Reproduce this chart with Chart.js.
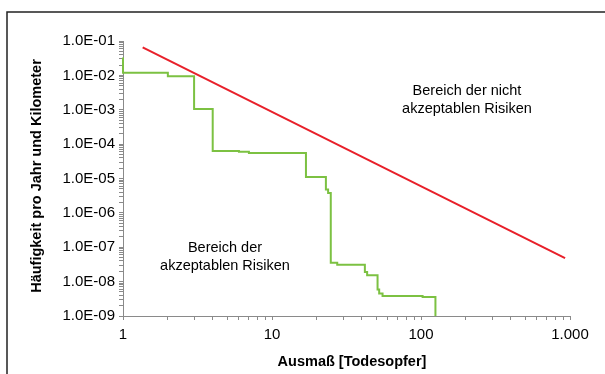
<!DOCTYPE html>
<html>
<head>
<meta charset="utf-8">
<script src="https://cdn.jsdelivr.net/npm/chart.js@4/dist/chart.umd.min.js"></script>
<style>
    html, body { margin: 0; padding: 0; background: #fff; }
    #wrap { width: 605px; height: 374px; position: relative; }
</style>
</head>
<body>
<div id="wrap"><canvas id="risk"></canvas></div>
<script>
// Grenzlinie (rot)
const limitX = [1.355, 927];
const limitY = [0.0656, 4.8e-8];

// Summenkurve (grün), Stufen: Ausmaß / Häufigkeit
const stepX = [1, 1, 2, 3, 4, 6, 7, 16.9, 23, 23.8, 24.8, 27.4, 42, 43.5, 51.1, 52.4, 55.2, 102.5, 125];
const stepY = [0.033, 0.012, 0.0094, 1.05e-3, 6.3e-5, 6.0e-5, 5.5e-5, 1.1e-5, 4.75e-6, 3.8e-6, 3.57e-8, 3.1e-8, 1.9e-8, 1.53e-8, 5.9e-9, 4.5e-9, 3.8e-9, 3.6e-9, 1e-9];

// Achsenbeschriftung
const xDecades = [0, 1, 2, 3];
const xTickLabels = ['1', '10', '100', '1.000'];
const yDecades = [-9, -8, -7, -6, -5, -4, -3, -2, -1];
const yTickLabels = ['1.0E-09', '1.0E-08', '1.0E-07', '1.0E-06', '1.0E-05', '1.0E-04', '1.0E-03', '1.0E-02', '1.0E-01'];

const FONT = 'Arial, "Liberation Sans", sans-serif';

function toPoints(xs, ys) {
    return xs.map((x, i) => ({ x: x, y: ys[i] }));
}

// 1..9 je Dekade, damit die kleinen Striche wie im Original sitzen
function decadeTicks(decades) {
    const ticks = [];
    decades.forEach((d, i) => {
        const last = i === decades.length - 1;
        for (let s = 1; s <= (last ? 1 : 9); s++) {
            ticks.push({ value: s * Math.pow(10, d), major: s === 1 });
        }
    });
    return ticks;
}

function labelFor(value, decades, labels) {
    const l = Math.log10(value);
    const r = Math.round(l);
    if (Math.abs(l - r) > 1e-6) return '';
    const i = decades.indexOf(r);
    return i >= 0 ? labels[i] : '';
}

// Rahmen, Achsentitel, Bereichstexte
const extras = {
    id: 'extras',
    afterDraw(chart) {
        const ctx = chart.ctx;
        ctx.save();
        ctx.strokeStyle = '#222';
        ctx.lineWidth = 1.5;
        ctx.beginPath();
        ctx.moveTo(605, 12);
        ctx.lineTo(7, 12);
        ctx.lineTo(7, 374);
        ctx.stroke();

        ctx.fillStyle = '#000';
        ctx.textAlign = 'center';
        ctx.textBaseline = 'middle';

        ctx.font = 'bold 14.5px ' + FONT;
        ctx.fillText('Ausmaß [Todesopfer]', 352, 362);
        ctx.save();
        ctx.translate(37, 176);
        ctx.rotate(-Math.PI / 2);
        ctx.fillText('Häufigkeit pro Jahr und Kilometer', 0, 0);
        ctx.restore();

        ctx.font = '14.5px ' + FONT;
        ctx.fillText('Bereich der nicht', 467, 91);
        ctx.fillText('akzeptablen Risiken', 467, 109);
        ctx.fillText('Bereich der', 225, 248);
        ctx.fillText('akzeptablen Risiken', 225, 266);
        ctx.restore();
    }
};

new Chart(document.getElementById('risk'), {
    type: 'line',
    data: {
        datasets: [
            {
                data: toPoints(stepX, stepY),
                borderColor: '#7cc142',
                borderWidth: 2,
                stepped: 'before',
                pointRadius: 0,
                fill: false,
                clip: 2
            },
            {
                data: toPoints(limitX, limitY),
                borderColor: '#e8202a',
                borderWidth: 2,
                pointRadius: 0,
                fill: false
            }
        ]
    },
    options: {
        responsive: true,
        maintainAspectRatio: false,
        animation: false,
        layout: { padding: { top: 41, right: 35, bottom: 0, left: 0 } },
        plugins: {
            legend: { display: false },
            tooltip: { enabled: false }
        },
        scales: {
            x: {
                type: 'logarithmic',
                min: 1,
                max: 1000,
                afterBuildTicks: (scale) => { scale.ticks = decadeTicks(xDecades); },
                afterFit: (scale) => { scale.height = 58; },
                border: { display: true, color: '#8a8a8a', width: 1 },
                grid: { drawOnChartArea: false, drawTicks: true, tickLength: 4, color: '#8a8a8a' },
                ticks: {
                    autoSkip: false,
                    maxRotation: 0,
                    padding: 6,
                    color: '#000',
                    font: { family: FONT, size: 15 },
                    callback: (v) => labelFor(v, xDecades, xTickLabels)
                }
            },
            y: {
                type: 'logarithmic',
                min: 1e-9,
                max: 1e-1,
                afterBuildTicks: (scale) => { scale.ticks = decadeTicks(yDecades); },
                afterFit: (scale) => { scale.width = 123; },
                border: { display: true, color: '#8a8a8a', width: 1 },
                grid: { drawOnChartArea: false, drawTicks: true, tickLength: 4, color: '#8a8a8a' },
                ticks: {
                    autoSkip: false,
                    padding: 4,
                    color: '#000',
                    font: { family: FONT, size: 15 },
                    callback: (v) => labelFor(v, yDecades, yTickLabels)
                }
            }
        }
    },
    plugins: [extras]
});
</script>
</body>
</html>
